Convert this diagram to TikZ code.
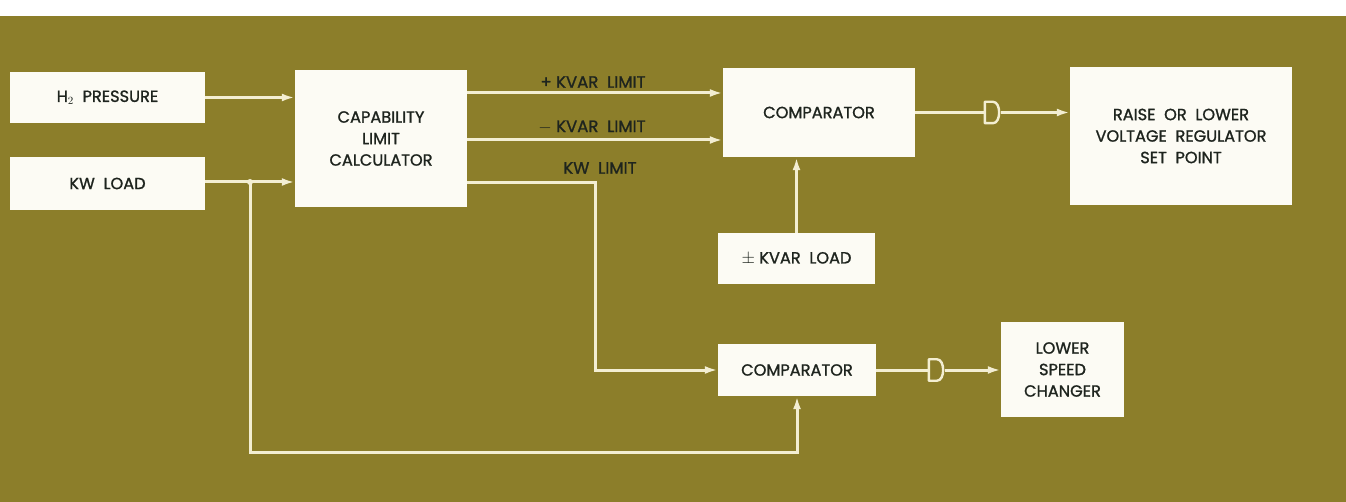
\documentclass[tikz,border=0pt]{standalone}
\usepackage{fontspec}
\setmainfont{Poppins}[FakeBold=1.2]
\usetikzlibrary{arrows.meta}
\definecolor{bgolive}{RGB}{140,126,42}
\definecolor{boxwhite}{RGB}{252,251,244}
\definecolor{wirecol}{RGB}{243,238,210}
\definecolor{inkcol}{RGB}{30,36,30}
\tikzset{
  blk/.style={fill=boxwhite,text=inkcol,align=center,inner sep=0pt,
    font=\fontsize{16.2}{21.5}\selectfont},
  lbl/.style={text=inkcol,inner sep=0pt,font=\fontsize{16.5}{18}\selectfont},
  wire/.style={draw=wirecol,line width=3pt},
  sig/.style={wire,-{Latex[length=13pt,width=8pt]}},
  dspot/.style={minimum width=16pt,minimum height=21pt,inner sep=0pt},
  dline/.style={draw=wirecol,fill=bgolive,line width=2.4pt,line join=round}
}
\begin{document}
\begin{tikzpicture}[x=1pt,y=-1pt]
  \useasboundingbox (0,0) rectangle (1346,502);
  \fill[white] (0,0) rectangle (1346,16);
  \fill[bgolive] (0,16) rectangle (1346,502);
  \node[blk,minimum width=195pt,minimum height=51pt] (h2) at (107.5,97.5) {H$_2$\ \ PRESSURE};
  \node[blk,minimum width=195pt,minimum height=53pt] (kw) at (107.5,183.5) {KW\ \ LOAD};
  \node[blk,minimum width=172pt,minimum height=137pt] (calc) at (381,138.5) {CAPABILITY\\LIMIT\\CALCULATOR};
  \node[blk,minimum width=192pt,minimum height=89pt] (comp1) at (819,112.5) {COMPARATOR};
  \node[blk,minimum width=222pt,minimum height=138pt] (raise) at (1181,136) {RAISE\ \ OR\ \ LOWER\\VOLTAGE\ \ REGULATOR\\SET\ \ POINT};
  \node[blk,minimum width=157pt,minimum height=51pt] (kvar) at (796.5,258.5) {$\pm$ KVAR\ \ LOAD};
  \node[blk,minimum width=158pt,minimum height=52pt] (comp2) at (797,370) {COMPARATOR};
  \node[blk,minimum width=123pt,minimum height=95pt] (lower) at (1062.5,369.5) {LOWER\\SPEED\\CHANGER};
  \node[dspot] (d1) at (993,112.5) {};
  \node[dspot] (d2) at (937,370) {};
  \node[lbl] (lplus) at (593,82) {+ KVAR\ \ LIMIT};
  \node[lbl] (lminus) at (592,127) {$-$ KVAR\ \ LIMIT};
  \node[lbl] (lkw) at (600,168) {KW\ \ LIMIT};
  \coordinate (j) at (250,182);
  \coordinate (p1) at (calc.east |- 0,93);
  \coordinate (p2) at (calc.east |- 0,140);
  \coordinate (p3) at (calc.east |- 0,183);
  \coordinate (k1) at (595,183);
  \coordinate (fb) at (250,452);
  \draw[sig] (h2.east) -- (h2.east -| calc.west);
  \draw[sig] (kw.east |- j) -- (j -| calc.west);
  \fill[wirecol] (j) circle (3pt);
  \draw[sig] (p1) -- (p1 -| comp1.west);
  \draw[sig] (p2) -- (p2 -| comp1.west);
  \draw[sig] (p3) -- (k1) -- (k1 |- comp2.west) -- (comp2.west);
  \draw[sig] (j) -- (fb) -| (comp2.south);
  \draw[sig] (kvar.north) -- (kvar.north |- comp1.south);
  \draw[wire] (comp1.east) -- (d1.west);
  \draw[sig] (d1.east) -- (d1.east -| raise.west);
  \draw[wire] (comp2.east) -- (d2.west);
  \draw[sig] (d2.east) -- (d2.east -| lower.west);
  \foreach \d in {d1,d2}
    \draw[dline] (\d.north west) -- (\d.north) .. controls (\d.north east) and (\d.south east) .. (\d.south) -- (\d.south west) -- cycle;
\end{tikzpicture}
\end{document}
